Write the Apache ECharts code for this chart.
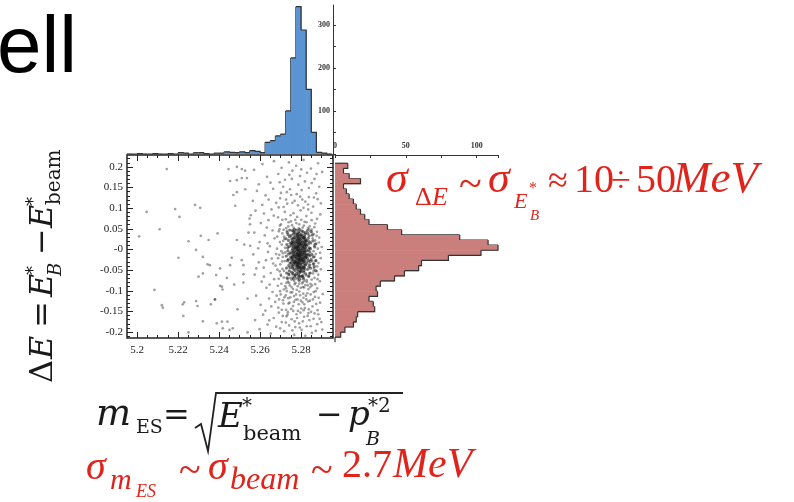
<!DOCTYPE html>
<html>
<head>
<meta charset="utf-8">
<script src="https://cdn.jsdelivr.net/npm/echarts@6/dist/echarts.min.js"></script>
<style>
html, body { margin: 0; padding: 0; background: #fff; }
#main { width: 794px; height: 502px; }
</style>
</head>
<body>
<div id="main"></div>
<script>
// m_ES projection (top histogram): bins of 0.0025 starting at 5.195
const mesEdgeLo = 5.195;
const mesBinW = 0.0025;
const mesCounts = [0, 0, 1, 0, 0, 1, 0, 0, 1, 0, 3, 2, 0, 3, 3, 1, 0, 2, 2, 5,
  4, 3, 5, 3, 8, 6, 3, 27, 31, 42, 46, 100, 223, 342, 288, 150, 50, 4, 2, 0];

// ΔE projection (right histogram): bins from the top edge downwards
const deEdgeTop = 0.209;
const deBinW = 0.0124;
const deCounts = [9, 6, 10, 18, 6, 8, 10, 13, 15, 18, 21, 24, 37, 47, 88, 108, 115, 103,
  80, 61, 59, 49, 42, 32, 29, 30, 24, 27, 28, 16, 15, 13, 7, 4, 0];

// axis ranges and ticks
const mesMin = 5.1951, mesMax = 5.2956;
const deMin = -0.2145, deMax = 0.229;
const mesTicks = [5.2, 5.22, 5.24, 5.26, 5.28];
const mesTickLabels = ["5.2", "5.22", "5.24", "5.26", "5.28"];
const mesMinorTicks = [5.195, 5.2, 5.205, 5.21, 5.215, 5.22, 5.225, 5.23, 5.235, 5.24, 5.245,
  5.25, 5.255, 5.26, 5.265, 5.27, 5.275, 5.28, 5.285, 5.29, 5.295];
const deTicks = [-0.2, -0.15, -0.1, -0.05, 0, 0.05, 0.1, 0.15, 0.2];
const deTickLabels = ["-0.2", "-0.15", "-0.1", "-0.05", "-0", "0.05", "0.1", "0.15", "0.2"];
const deMinorTicks = [-0.21, -0.2, -0.19, -0.18, -0.17, -0.16, -0.15, -0.14, -0.13, -0.12, -0.11,
  -0.1, -0.09, -0.08, -0.07, -0.06, -0.05, -0.04, -0.03, -0.02, -0.01, 0, 0.01, 0.02, 0.03, 0.04,
  0.05, 0.06, 0.07, 0.08, 0.09, 0.1, 0.11, 0.12, 0.13, 0.14, 0.15, 0.16, 0.17, 0.18, 0.19, 0.2, 0.21, 0.22];
const topHistTicks = [0, 50, 100, 150, 200, 250, 300];
const topHistLabels = ["", "", "100", "", "200", "", "300"];
const rightHistLabels = ["0", "", "50", "", "100"];

// scatter: sparse events on the left side
const sparsePts = [
  [5.2145, 0.195], [5.2446, 0.195], [5.2487, 0.2], [5.2511, 0.195], [5.2527, 0.191], [5.2454, 0.166],
  [5.2487, 0.168], [5.2511, 0.173], [5.2536, 0.173], [5.247, 0.132], [5.2487, 0.139], [5.2528, 0.146],
  [5.2479, 0.106], [5.2283, 0.108], [5.2308, 0.101], [5.2186, 0.098], [5.2047, 0.091], [5.2207, 0.079],
  [5.2555, 0.083], [5.2549, 0.075], [5.211, 0.049], [5.201, 0.032], [5.2311, 0.033], [5.2393, 0.039],
  [5.2349, 0.023], [5.2251, 0.02], [5.2487, 0.023], [5.2523, 0.012], [5.2544, 0.041], [5.2288, -0.001],
  [5.2202, -0.02], [5.2321, -0.018], [5.2344, -0.036], [5.2405, -0.046], [5.2454, -0.038], [5.2462, -0.02],
  [5.2511, -0.026], [5.2519, -0.038], [5.2519, -0.06], [5.2552, 0.009], [5.23, -0.066], [5.2321, -0.058],
  [5.2386, -0.062], [5.2438, -0.069], [5.2414, -0.09], [5.2405, -0.088], [5.2474, -0.085], [5.2519, -0.08],
  [5.2085, -0.098], [5.2539, -0.119], [5.2288, -0.125], [5.2295, -0.137], [5.223, -0.128], [5.2223, -0.133],
  [5.2121, -0.135], [5.2126, -0.141], [5.236, -0.133], [5.2381, -0.121], [5.249, -0.145], [5.2226, -0.161],
  [5.2321, -0.174], [5.2389, -0.179], [5.2414, -0.175], [5.2441, -0.175], [5.2418, -0.191], [5.2451, -0.195],
  [5.2467, -0.191], [5.2251, -0.201], [5.2539, -0.201], [5.2355, -0.038], [5.2417, -0.097], [5.2379, -0.121]
];

// scatter: broad background near the B mass
const haloPts = [
  [5.2612, 0.207], [5.2668, 0.214], [5.2705, 0.198], [5.2741, 0.211], [5.2776, 0.203], [5.2812, 0.217],
  [5.2848, 0.196], [5.2883, 0.209], [5.2903, 0.188], [5.2634, 0.176], [5.2689, 0.183], [5.2722, 0.169],
  [5.2758, 0.191], [5.2795, 0.178], [5.2829, 0.186], [5.2866, 0.171], [5.2594, 0.158], [5.2651, 0.162],
  [5.2713, 0.152], [5.2787, 0.157], [5.2852, 0.161], [5.2889, 0.152], [5.2743, 0.181], [5.2571, 0.193],
  [5.2819, 0.165],
  [5.2585, 0.142], [5.2627, 0.131], [5.2664, 0.147], [5.2698, 0.124], [5.2731, 0.139], [5.2769, 0.118],
  [5.2803, 0.144], [5.2838, 0.127], [5.2874, 0.136], [5.2897, 0.112], [5.2611, 0.108], [5.2679, 0.113],
  [5.2715, 0.103], [5.2752, 0.132], [5.2785, 0.107], [5.2821, 0.116], [5.2859, 0.104], [5.2642, 0.121],
  [5.2746, 0.146], [5.2796, 0.128], [5.2565, 0.118], [5.2702, 0.137], [5.2881, 0.122], [5.2733, 0.111],
  [5.2812, 0.101],
  [5.2578, 0.094], [5.2619, 0.087], [5.2656, 0.097], [5.2688, 0.078], [5.2721, 0.091], [5.2749, 0.083],
  [5.2772, 0.072], [5.2798, 0.095], [5.2826, 0.081], [5.2851, 0.089], [5.2878, 0.074], [5.2604, 0.064],
  [5.2641, 0.071], [5.2697, 0.058], [5.2739, 0.066], [5.2763, 0.088], [5.2791, 0.061], [5.2817, 0.067],
  [5.2842, 0.056], [5.2869, 0.063], [5.2894, 0.085], [5.2667, 0.082], [5.2728, 0.052], [5.2781, 0.079],
  [5.2808, 0.053], [5.2551, 0.061], [5.2633, 0.053], [5.2709, 0.072], [5.2756, 0.059], [5.2835, 0.097],
  [5.2572, 0.041], [5.2598, 0.018], [5.2623, 0.034], [5.2648, 0.008], [5.2671, 0.027], [5.2692, 0.044],
  [5.2706, 0.012], [5.2718, 0.031], [5.2862, 0.037], [5.2874, 0.014], [5.2889, 0.029], [5.2901, 0.006],
  [5.2683, 0.002], [5.2661, 0.046], [5.2591, 0.003], [5.2731, 0.045], [5.2852, 0.048], [5.2869, 0.022],
  [5.2713, 0.021], [5.2637, 0.015],
  [5.2567, -0.012], [5.2594, -0.031], [5.2618, -0.044], [5.2639, -0.006], [5.2657, -0.022], [5.2676, -0.039],
  [5.2694, -0.013], [5.2709, -0.047], [5.2721, -0.028], [5.2866, -0.018], [5.2879, -0.041], [5.2893, -0.008],
  [5.2858, -0.036], [5.2704, -0.004], [5.2629, -0.026], [5.2685, -0.049], [5.2582, -0.046], [5.2871, -0.027],
  [5.2664, -0.034], [5.2897, -0.048],
  [5.2574, -0.061], [5.2608, -0.078], [5.2631, -0.093], [5.2652, -0.057], [5.2669, -0.072], [5.2687, -0.088],
  [5.2703, -0.064], [5.2716, -0.097], [5.2729, -0.081], [5.2741, -0.059], [5.2754, -0.091], [5.2766, -0.076],
  [5.2779, -0.098], [5.2791, -0.083], [5.2803, -0.065], [5.2815, -0.092], [5.2828, -0.074], [5.2841, -0.058],
  [5.2853, -0.087], [5.2866, -0.069], [5.2879, -0.094], [5.2892, -0.077], [5.2647, -0.085], [5.2696, -0.053],
  [5.2735, -0.071], [5.2772, -0.062], [5.2809, -0.079], [5.2836, -0.096], [5.2861, -0.052], [5.2619, -0.066],
  [5.2723, -0.089], [5.2758, -0.068], [5.2797, -0.054], [5.2846, -0.083], [5.2884, -0.061],
  [5.2581, -0.112], [5.2603, -0.134], [5.2626, -0.148], [5.2644, -0.119], [5.2661, -0.103], [5.2674, -0.127],
  [5.2689, -0.141], [5.2701, -0.109], [5.2714, -0.131], [5.2727, -0.146], [5.2738, -0.118], [5.2749, -0.104],
  [5.2761, -0.137], [5.2773, -0.122], [5.2785, -0.149], [5.2796, -0.111], [5.2807, -0.128], [5.2819, -0.142],
  [5.2831, -0.106], [5.2843, -0.124], [5.2856, -0.138], [5.2868, -0.115], [5.2881, -0.147], [5.2893, -0.129],
  [5.2906, -0.108], [5.2655, -0.138], [5.2693, -0.121], [5.2731, -0.101], [5.2766, -0.113], [5.2789, -0.133],
  [5.2812, -0.117], [5.2838, -0.145], [5.2862, -0.103], [5.2719, -0.116], [5.2752, -0.144], [5.2801, -0.143],
  [5.2826, -0.121], [5.2681, -0.112], [5.2874, -0.132], [5.2744, -0.129],
  [5.2576, -0.171], [5.2598, -0.193], [5.2615, -0.158], [5.2637, -0.182], [5.2652, -0.204], [5.2667, -0.166],
  [5.2679, -0.187], [5.2692, -0.153], [5.2706, -0.176], [5.2718, -0.198], [5.2729, -0.162], [5.2742, -0.184],
  [5.2754, -0.169], [5.2767, -0.207], [5.2778, -0.157], [5.2791, -0.179], [5.2803, -0.195], [5.2815, -0.163],
  [5.2828, -0.186], [5.2841, -0.171], [5.2853, -0.202], [5.2866, -0.155], [5.2879, -0.181], [5.2891, -0.168],
  [5.2904, -0.194], [5.2645, -0.172], [5.2698, -0.191], [5.2736, -0.152], [5.2772, -0.188], [5.2809, -0.174],
  [5.2836, -0.154], [5.2872, -0.197], [5.2711, -0.161], [5.2758, -0.196], [5.2821, -0.209]
];

// scatter: medium density ring around the core
const midPts = [
  [5.2702, 0.061], [5.2715, 0.048], [5.2726, 0.073], [5.2738, 0.056], [5.2751, 0.068], [5.2764, 0.053],
  [5.2777, 0.064], [5.2789, 0.051], [5.2801, 0.072], [5.2814, 0.058], [5.2827, 0.066], [5.2839, 0.049],
  [5.2852, 0.071], [5.2865, 0.054], [5.2878, 0.043], [5.2684, 0.031], [5.2697, 0.018], [5.2709, 0.039],
  [5.2722, 0.004], [5.2834, 0.052], [5.2857, 0.027], [5.2864, 0.009], [5.2876, 0.033], [5.2887, 0.017],
  [5.2695, 0.049], [5.2712, -0.009], [5.2719, 0.026], [5.2853, 0.041], [5.2861, -0.004], [5.2882, 0.002],
  [5.2688, -0.021], [5.2699, -0.036], [5.2711, -0.018], [5.2717, -0.052], [5.2724, -0.007], [5.2855, -0.028],
  [5.2863, -0.046], [5.2872, -0.011], [5.2885, -0.033], [5.2896, -0.021], [5.2679, -0.011], [5.2701, -0.061],
  [5.2859, -0.058], [5.2877, -0.053], [5.2708, -0.029],
  [5.2691, -0.071], [5.2704, -0.083], [5.2716, -0.068], [5.2727, -0.094], [5.2736, -0.078], [5.2745, -0.087],
  [5.2753, -0.073], [5.2761, -0.096], [5.2769, -0.084], [5.2776, -0.071], [5.2784, -0.089], [5.2792, -0.077],
  [5.2799, -0.093], [5.2806, -0.082], [5.2813, -0.068], [5.2821, -0.086], [5.2829, -0.079], [5.2837, -0.066],
  [5.2845, -0.091], [5.2852, -0.073], [5.2869, -0.084], [5.2881, -0.072], [5.2747, -0.069], [5.2773, -0.081],
  [5.2795, -0.066], [5.2818, -0.076], [5.2833, -0.087], [5.2759, -0.061], [5.2787, -0.074], [5.2809, -0.091],
  [5.2825, -0.063], [5.2742, -0.081],
  [5.2698, -0.101], [5.2712, -0.123], [5.2725, -0.111], [5.2739, -0.131], [5.2748, -0.116], [5.2757, -0.104],
  [5.2765, -0.127], [5.2776, -0.109], [5.2783, -0.121], [5.2792, -0.102], [5.2799, -0.124], [5.2811, -0.107],
  [5.2816, -0.133], [5.2824, -0.112], [5.2835, -0.126], [5.2847, -0.109], [5.2858, -0.121], [5.2871, -0.101],
  [5.2886, -0.117], [5.2706, -0.146], [5.2734, -0.158], [5.2762, -0.149], [5.2781, -0.166], [5.2797, -0.153],
  [5.2813, -0.147], [5.2832, -0.161], [5.2849, -0.151], [5.2861, -0.168], [5.2884, -0.157], [5.2726, -0.177],
  [5.2769, -0.174], [5.2794, -0.189], [5.2847, -0.186], [5.2899, -0.176],
  [5.2691, 0.102], [5.2727, 0.121], [5.2758, 0.113], [5.2779, 0.134], [5.2806, 0.121], [5.2834, 0.109],
  [5.2863, 0.126], [5.2755, 0.171], [5.2801, 0.194], [5.2838, 0.149], [5.2876, 0.183], [5.2696, 0.163]
];

// scatter: dense signal core
const corePts = [
  [5.2731, 0.012], [5.2738, -0.024], [5.2744, 0.031], [5.2729, -0.045], [5.2747, -0.008], [5.2735, 0.004],
  [5.2741, -0.061], [5.2733, 0.041], [5.2746, -0.033], [5.2728, -0.016], [5.2739, 0.022], [5.2743, -0.052],
  [5.2736, -0.003], [5.2748, 0.015], [5.2732, -0.069], [5.2745, 0.047], [5.2727, 0.026], [5.274, -0.039],
  [5.2734, -0.027], [5.2749, -0.018], [5.2737, 0.036], [5.2742, 0.007], [5.273, -0.057], [5.2746, -0.044],
  [5.2739, -0.011],
  [5.2753, 0.009], [5.2758, -0.021], [5.2762, 0.027], [5.2767, -0.004], [5.2771, 0.018], [5.2756, -0.038],
  [5.2764, -0.012], [5.2769, 0.041], [5.2773, -0.029], [5.2752, 0.034], [5.2759, 0.002], [5.2766, -0.047],
  [5.2761, 0.015], [5.277, -0.017], [5.2755, -0.055], [5.2763, 0.038], [5.2768, -0.033], [5.2774, 0.006],
  [5.2757, 0.021], [5.2765, -0.026], [5.2772, -0.062], [5.2754, -0.009], [5.276, -0.041], [5.2767, 0.029],
  [5.2771, -0.008], [5.2758, 0.046], [5.2762, -0.071], [5.2769, 0.011], [5.2753, -0.024], [5.2773, 0.024],
  [5.2756, 0.013], [5.2764, -0.035], [5.277, -0.051], [5.2759, -0.016], [5.2766, 0.004], [5.2761, -0.058],
  [5.2774, -0.039], [5.2752, -0.032], [5.2768, 0.049], [5.2757, -0.002], [5.2763, 0.019], [5.2771, 0.033],
  [5.2755, 0.026], [5.276, -0.028], [5.2767, -0.014], [5.2773, -0.021], [5.2758, -0.045], [5.2765, 0.008],
  [5.2769, -0.066], [5.2754, 0.017], [5.2762, -0.006], [5.2772, 0.001], [5.2756, -0.019], [5.2764, 0.044],
  [5.277, -0.031],
  [5.2777, 0.003], [5.2781, -0.011], [5.2785, 0.016], [5.2789, -0.023], [5.2793, 0.007], [5.2797, -0.035],
  [5.2779, 0.028], [5.2783, -0.041], [5.2787, -0.002], [5.2791, 0.021], [5.2795, -0.014], [5.2799, 0.011],
  [5.2778, -0.027], [5.2782, 0.037], [5.2786, -0.053], [5.279, -0.008], [5.2794, 0.032], [5.2798, -0.046],
  [5.278, -0.004], [5.2784, 0.009], [5.2788, -0.031], [5.2792, -0.064], [5.2796, 0.024], [5.2776, -0.017],
  [5.2781, 0.019], [5.2785, -0.036], [5.2789, 0.043], [5.2793, -0.019], [5.2797, 0.002], [5.2779, -0.058],
  [5.2783, -0.009], [5.2787, 0.025], [5.2791, -0.044], [5.2795, 0.013], [5.2799, -0.026], [5.2778, 0.047],
  [5.2782, -0.033], [5.2786, 0.006], [5.279, -0.015], [5.2794, -0.072], [5.2798, 0.035], [5.278, -0.021],
  [5.2784, -0.048], [5.2788, 0.012], [5.2792, -0.003], [5.2796, -0.052], [5.2777, 0.015], [5.2781, -0.038],
  [5.2785, 0.031], [5.2789, 0.001], [5.2793, -0.029], [5.2797, 0.018], [5.2779, -0.012], [5.2783, 0.022],
  [5.2787, -0.061], [5.2791, 0.039], [5.2795, -0.041], [5.2799, -0.007], [5.2778, -0.045], [5.2782, 0.004],
  [5.2786, -0.024], [5.279, 0.027], [5.2794, -0.011], [5.2798, -0.018], [5.278, 0.038], [5.2784, -0.016],
  [5.2788, -0.042], [5.2792, 0.016], [5.2796, -0.006], [5.2776, -0.032], [5.2781, -0.001], [5.2785, -0.068],
  [5.2789, -0.034], [5.2793, 0.048], [5.2797, -0.022], [5.2779, 0.008], [5.2783, 0.033], [5.2787, -0.014],
  [5.2791, -0.027], [5.2795, -0.056],
  [5.2801, -0.013], [5.2805, 0.021], [5.2809, -0.031], [5.2813, 0.004], [5.2817, -0.046], [5.2821, 0.016],
  [5.2803, 0.036], [5.2807, -0.008], [5.2811, -0.024], [5.2815, 0.029], [5.2819, -0.011], [5.2823, -0.037],
  [5.2802, -0.052], [5.2806, 0.009], [5.281, 0.043], [5.2814, -0.019], [5.2818, 0.001], [5.2822, 0.024],
  [5.2804, -0.027], [5.2808, -0.063], [5.2812, 0.013], [5.2816, -0.034], [5.282, -0.005], [5.2824, 0.011],
  [5.2801, 0.027], [5.2805, -0.041], [5.2809, 0.006], [5.2813, -0.055], [5.2817, 0.019], [5.2821, -0.022],
  [5.2803, -0.002], [5.2807, 0.032], [5.2811, -0.044], [5.2815, -0.009], [5.2819, 0.037], [5.2823, -0.059],
  [5.2802, 0.014], [5.2806, -0.021], [5.281, -0.016], [5.2814, 0.026], [5.2818, -0.039], [5.2822, 0.003],
  [5.2804, 0.045], [5.2808, -0.012], [5.2812, -0.071], [5.2816, 0.008], [5.282, -0.028], [5.2824, -0.014],
  [5.2801, -0.035], [5.2805, 0.002], [5.2809, 0.018], [5.2813, -0.029], [5.2817, -0.004], [5.2821, 0.041],
  [5.2803, -0.047], [5.2807, -0.025], [5.2811, 0.029], [5.2815, -0.051], [5.2819, 0.012], [5.2823, 0.021],
  [5.2806, -0.066], [5.281, -0.003], [5.2814, -0.043], [5.2818, 0.031], [5.2822, -0.018],
  [5.2827, 0.008], [5.2831, -0.021], [5.2835, 0.027], [5.2839, -0.042], [5.2843, -0.006], [5.2847, 0.016],
  [5.2829, -0.033], [5.2833, 0.039], [5.2837, -0.013], [5.2841, 0.004], [5.2845, -0.057], [5.2849, -0.024],
  [5.2828, 0.021], [5.2832, -0.048], [5.2836, -0.001], [5.284, 0.033], [5.2844, -0.029], [5.2848, 0.044],
  [5.283, -0.011], [5.2834, 0.013], [5.2838, -0.064], [5.2842, -0.037], [5.2846, 0.002], [5.2826, -0.017],
  [5.2831, 0.046], [5.2835, -0.027], [5.2839, 0.019], [5.2843, -0.015], [5.2847, -0.045], [5.2829, -0.003],
  [5.2853, -0.012], [5.2858, 0.021], [5.2862, -0.034], [5.2867, 0.006], [5.2871, -0.051], [5.2855, 0.035],
  [5.286, -0.018], [5.2865, -0.041], [5.2869, 0.013], [5.2873, -0.027]
];

const red = "#e0241c";
const ink = "#1a1a1a";

function pick(v, vals, labels) {
  for (let i = 0; i < vals.length; i++) {
    if (Math.abs(v - vals[i]) < 1e-6) return labels[i];
  }
  return "";
}

// text placed by its baseline
function tx(x, base, str, size, o) {
  o = o || {};
  return {
    type: "text", x: x, y: base - 0.34 * size, silent: true,
    style: {
      text: str, fontSize: size, fontFamily: o.font || "Liberation Serif",
      fontStyle: o.it ? "italic" : "normal", fill: o.c || ink,
      align: "left", textAlign: "left", verticalAlign: "middle", textVerticalAlign: "middle"
    }
  };
}

// an extra axis that only draws inner tick marks of the frame
function tickAxis(grid, pos, vals, len, min, max) {
  return {
    type: "value", gridIndex: grid, position: pos, min: min, max: max,
    axisLine: { show: false, onZero: false }, splitLine: { show: false }, axisLabel: { show: false },
    axisTick: { show: true, inside: true, length: len, customValues: vals, lineStyle: { color: "#222", width: 1 } }
  };
}

const tickFont = { fontFamily: "Liberation Serif", fontSize: 11, color: "#222" };
const histFont = { fontFamily: "Liberation Serif", fontSize: 8, color: "#333", fontWeight: "bold" };

const topData = mesCounts.map((c, i) => [
  mesEdgeLo + i * mesBinW, mesEdgeLo + (i + 1) * mesBinW, c, i + 1 < mesCounts.length ? mesCounts[i + 1] : 0
]);
const rightData = deCounts.map((c, i) => [
  deEdgeTop - i * deBinW, deEdgeTop - (i + 1) * deBinW, c, i + 1 < deCounts.length ? deCounts[i + 1] : 0
]);

const up = { font: "DejaVu Serif" };
const it = { font: "DejaVu Serif", it: true };
const option = {
  animation: false,
  backgroundColor: "#fff",
  grid: [
    { left: 127, top: 155, width: 206, height: 183, show: true, borderColor: "#222", borderWidth: 1.5, backgroundColor: "transparent" },
    { left: 127, top: 5, width: 206, height: 149 },
    { left: 335, top: 155, width: 163, height: 183 }
  ],
  xAxis: [
    {
      type: "value", gridIndex: 0, position: "bottom", min: mesMin, max: mesMax,
      axisLine: { show: false, onZero: false }, splitLine: { show: false },
      axisTick: { inside: true, length: 6, customValues: mesTicks, lineStyle: { color: "#222" } },
      axisLabel: Object.assign({ customValues: mesTicks, margin: 7, formatter: v => pick(v, mesTicks, mesTickLabels) }, tickFont)
    },
    tickAxis(0, "bottom", mesMinorTicks, 3, mesMin, mesMax),
    tickAxis(0, "top", mesTicks, 6, mesMin, mesMax),
    tickAxis(0, "top", mesMinorTicks, 3, mesMin, mesMax),
    { type: "value", gridIndex: 1, min: mesMin, max: mesMax, show: false },
    {
      type: "value", gridIndex: 2, position: "top", min: 0, max: 115, interval: 25,
      axisLine: { show: true, onZero: false, lineStyle: { color: "#333", width: 1 } }, splitLine: { show: false },
      axisTick: { inside: true, length: 3, lineStyle: { color: "#333" } },
      axisLabel: Object.assign({ margin: 5, formatter: (v, i) => rightHistLabels[i] || "" }, histFont)
    }
  ],
  yAxis: [
    {
      type: "value", gridIndex: 0, position: "left", min: deMin, max: deMax,
      axisLine: { show: false, onZero: false }, splitLine: { show: false },
      axisTick: { inside: true, length: 6, customValues: deTicks, lineStyle: { color: "#222" } },
      axisLabel: Object.assign({ customValues: deTicks, margin: 4, formatter: v => pick(v, deTicks, deTickLabels) }, tickFont)
    },
    tickAxis(0, "left", deMinorTicks, 3, deMin, deMax),
    tickAxis(0, "right", deTicks, 6, deMin, deMax),
    tickAxis(0, "right", deMinorTicks, 3, deMin, deMax),
    {
      type: "value", gridIndex: 1, position: "right", min: 0, max: 346,
      axisLine: { show: true, onZero: false, lineStyle: { color: "#333", width: 1 } }, splitLine: { show: false },
      axisTick: { show: true, length: 3, customValues: topHistTicks, lineStyle: { color: "#333" } },
      axisLabel: Object.assign({ inside: true, margin: 3, customValues: topHistTicks, formatter: v => pick(v, topHistTicks, topHistLabels) }, histFont)
    },
    { type: "value", gridIndex: 2, min: deMin, max: deMax, show: false }
  ],
  series: [
    {
      type: "scatter", xAxisIndex: 0, yAxisIndex: 0, silent: true,
      symbol: "circle", symbolSize: 2.7,
      itemStyle: { color: "rgba(40,40,40,0.55)" },
      data: sparsePts.concat(haloPts, midPts)
    },
    {
      type: "scatter", xAxisIndex: 0, yAxisIndex: 0, silent: true,
      symbol: "circle", symbolSize: 3.2,
      itemStyle: { color: "rgba(20,20,20,0.7)" },
      data: corePts
    },
    {
      type: "custom", xAxisIndex: 4, yAxisIndex: 4, silent: true,
      encode: { x: [0, 1], y: 2 },
      data: topData,
      renderItem: function (params, api) {
        const lo = api.value(0), hi = api.value(1), c = api.value(2), nx = api.value(3);
        const base = api.coord([lo, 0]), top = api.coord([hi, c]);
        const tl = api.coord([lo, c]), nxt = api.coord([hi, nx]);
        const kids = [
          { type: "rect", shape: { x: base[0], y: top[1], width: top[0] - base[0] + 0.6, height: base[1] - top[1] }, style: { fill: "#5b94d3" } },
          { type: "polyline", shape: { points: [tl, top, nxt] }, style: { stroke: "#333", lineWidth: 1.2, fill: null } }
        ];
        if (params.dataIndex === 0) {
          kids.push({ type: "line", shape: { x1: base[0], y1: base[1], x2: tl[0], y2: tl[1] }, style: { stroke: "#333", lineWidth: 1.2 } });
        }
        return { type: "group", children: kids };
      }
    },
    {
      type: "custom", xAxisIndex: 5, yAxisIndex: 5, silent: true,
      encode: { x: 2, y: [0, 1] },
      data: rightData,
      renderItem: function (params, api) {
        const t = api.value(0), b = api.value(1), c = api.value(2), nx = api.value(3);
        const zt = api.coord([0, t]), cb = api.coord([c, b]);
        const ct = api.coord([c, t]), nxt = api.coord([nx, b]);
        const kids = [
          { type: "rect", shape: { x: zt[0], y: zt[1], width: cb[0] - zt[0], height: cb[1] - zt[1] + 0.6 }, style: { fill: "#ca7f7c" } },
          { type: "polyline", shape: { points: [ct, cb, nxt] }, style: { stroke: "#333", lineWidth: 1.2, fill: null } }
        ];
        if (params.dataIndex === 0) {
          kids.push({ type: "line", shape: { x1: zt[0], y1: zt[1], x2: ct[0], y2: ct[1] }, style: { stroke: "#333", lineWidth: 1.2 } });
        }
        return { type: "group", children: kids };
      }
    }
  ],
  graphic: [
    tx(-3, 77, "ell", 80, { font: "Liberation Sans", c: "#000" }),
    // ΔE = E*_B − E*_beam (rotated axis title)
    {
      type: "group", x: 55, y: 383, rotation: Math.PI / 2,
      children: [
        tx(0, 0, "Δ", 32, up), tx(24, 0, "E", 32, it),
        tx(55, 0, "=", 32, up),
        tx(86, 0, "E", 32, it),
        tx(108, -15, "*", 18, up), tx(107, 7, "B", 18, it),
        tx(128, 0, "−", 32, up),
        tx(155, 0, "E", 32, it),
        tx(177, -15, "*", 18, up), tx(178, 7, "beam", 20, up)
      ]
    },
    // m_ES = sqrt(E*_beam − p*_B^2)
    tx(96, 428, "m", 37, it),
    tx(136, 435, "ES", 19, up),
    tx(163, 428, "=", 32, up),
    { type: "polyline", silent: true, shape: { points: [[195, 428], [201, 424], [208, 451], [216, 393], [403, 393]] }, style: { stroke: "#222", lineWidth: 1.8, fill: null } },
    tx(218, 430, "E", 34, it),
    tx(242, 414, "*", 20, up),
    tx(243, 442, "beam", 21, up),
    tx(316, 428, "−", 32, up),
    tx(348, 428, "p", 34, it),
    tx(368, 414, "*2", 20, up),
    tx(366, 447, "B", 19, it),
    // sigma(ΔE) annotation
    tx(386, 195, "σ", 44, { it: true, c: red }),
    tx(415, 207, "Δ", 26, { c: red }), tx(432, 207, "E", 26, { it: true, c: red }),
    tx(459, 200, "~", 42, { c: red }),
    tx(488, 195, "σ", 44, { it: true, c: red }),
    tx(514, 210, "E", 22, { it: true, c: red }), tx(529, 194, "*", 16, { c: red }), tx(530, 221, "B", 15, { it: true, c: red }),
    tx(548, 195, "≈", 36, { c: red }),
    tx(574, 195, "10", 40, { c: red }),
    tx(611, 195, "÷", 36, { c: red }),
    tx(636, 195, "50", 40, { c: red }),
    tx(673, 195, "MeV", 45, { it: true, c: red }),
    // sigma(mES) annotation
    tx(86, 482, "σ", 40, { it: true, c: red }),
    tx(110, 491, "m", 30, { it: true, c: red }),
    tx(136, 498, "ES", 18, { it: true, c: red }),
    tx(179, 486, "~", 40, { c: red }),
    tx(208, 482, "σ", 40, { it: true, c: red }),
    tx(230, 491, "beam", 32, { it: true, c: red }),
    tx(311, 486, "~", 40, { c: red }),
    tx(342, 480, "2.7", 40, { c: red }),
    tx(393, 480, "MeV", 42, { it: true, c: red })
  ]
};

const chart = echarts.init(document.getElementById("main"));
chart.setOption(option);
</script>
</body>
</html>
